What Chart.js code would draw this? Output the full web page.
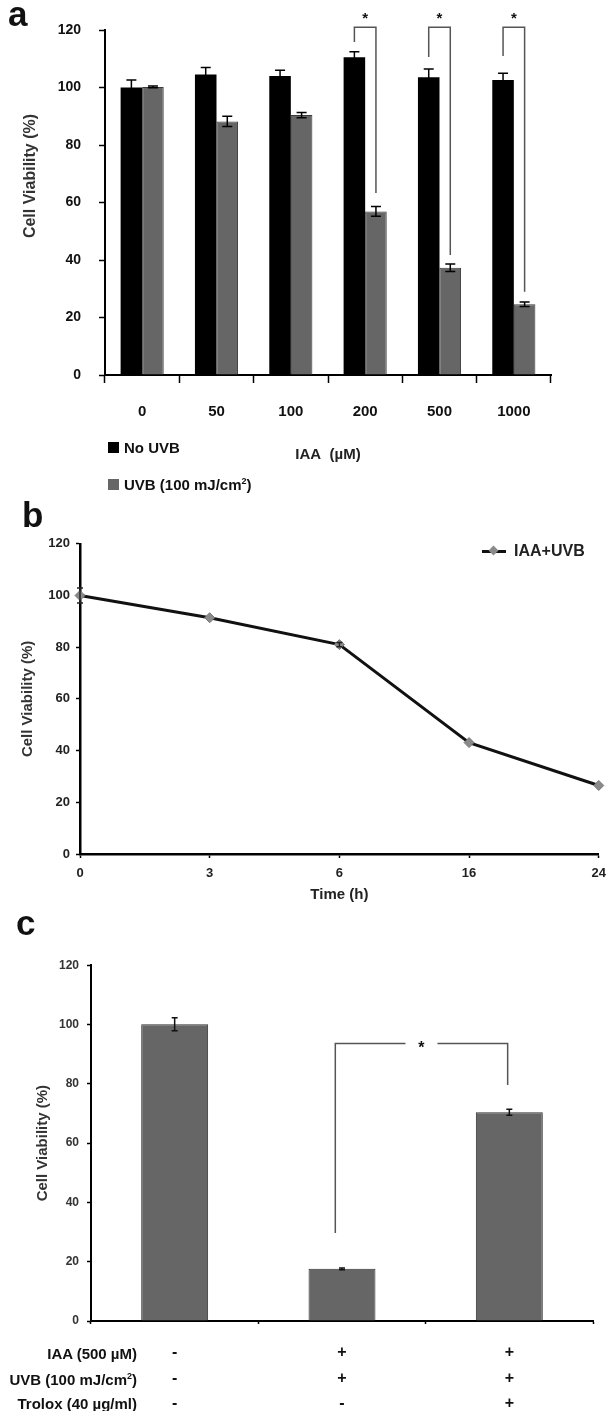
<!DOCTYPE html>
<html>
<head>
<meta charset="utf-8">
<script src="https://cdn.jsdelivr.net/npm/chart.js@4.4.0/dist/chart.umd.min.js"></script>
<style>
    body {
        margin: 0;
        width: 614px;
        height: 1411px;
        position: relative;
        overflow: hidden;
        background: #fff;
        font-family: "Liberation Sans", Arial, sans-serif;
    }

    canvas {
        position: absolute;
        left: 0;
        display: block;
    }

    .txt {
        position: absolute;
        font-weight: bold;
        color: #111;
        white-space: nowrap;
        line-height: 1;
    }

    .letter { font-size: 35px; }

    .legend-sq {
        position: absolute;
        width: 11px;
        height: 11px;
    }

    .ytitle {
        transform: translate(-50%, -50%) rotate(-90deg);
        font-size: 16px;
        color: #333;
    }

    .row-name {
        font-size: 15px;
        transform: translate(-100%, -50%);
    }

    .legend-line {
        position: absolute;
        left: 482px;
        top: 550px;
        width: 24px;
        height: 3px;
        background: #111;
    }

    .legend-diamond {
        position: absolute;
        left: 490px;
        top: 547px;
        width: 7px;
        height: 7px;
        background: #8a8a8a;
        transform: rotate(45deg);
    }

    sup { font-size: 60%; line-height: 0; }
</style>
</head>
<body>

<canvas id="chart-a" width="614" height="470" style="top:0"></canvas>
<canvas id="chart-b" width="614" height="380" style="top:530px"></canvas>
<canvas id="chart-c" width="614" height="461" style="top:950px"></canvas>

<div class="txt letter" style="left:8px; top:-4px">a</div>
<div class="txt letter" style="left:22px; top:497px">b</div>
<div class="txt letter" style="left:16px; top:905px">c</div>

<div class="txt ytitle" style="left:30px; top:176px">Cell Viability (%)</div>

<div class="legend-sq" style="left:108px; top:442px; background:#000"></div>
<div class="txt" style="left:124px; top:440px; font-size:15px">No UVB</div>
<div class="legend-sq" style="left:108px; top:479px; background:#666"></div>
<div class="txt" style="left:124px; top:477px; font-size:15px">UVB (100 mJ/cm<sup>2</sup>)</div>

<div class="legend-line"></div>
<div class="legend-diamond"></div>
<div class="txt" style="left:514px; top:543px; font-size:16px; color:#222">IAA+UVB</div>

<div id="row-names"></div>

<script>
/* ===========================
   DATA
=========================== */

// panel a: viability vs IAA dose
const doseLabels = ["0", "50", "100", "200", "500", "1000"];
const noUvbValues = [100, 104.5, 104, 110.5, 103.6, 102.6];
const noUvbErrors = [2.6, 2.5, 2, 1.9, 2.8, 2.4];
const uvbValues = [100.2, 88.2, 90.4, 56.9, 37.3, 24.6];
const uvbErrors = [0.3, 1.8, 0.9, 1.7, 1.3, 0.8];

// significance brackets in panel a
const sigDoseIndex = [3, 4, 5];
const sigLeftFrom = [115.8, 110.6, 111];
const sigRightTo = [63.3, 41.7, 29];
const sigTop = 121;
const sigStar = 125;

// panel b: viability vs time
const timeLabels = ["0", "3", "6", "16", "24"];
const timeValues = [100, 91.4, 81, 43.1, 26.5];
const timeErrors = [2.9, 0, 0.8, 0, 0];

// panel c: treatments
const treatmentRows = ["IAA (500 µM)", "UVB (100 mJ/cm²)", "Trolox (40 µg/ml)"];
const treatmentLabels = [["-", "-", "-"], ["+", "+", "-"], ["+", "+", "+"]];
const treatmentValues = [100.1, 17.6, 70.4];
const treatmentErrors = [2.2, 0.3, 1];

// bracket in panel c (category positions and values)
const trtSigFrom = 0.96;
const trtSigTo = 1.99;
const trtSigLeftLow = 29.7;
const trtSigRightLow = 79.6;
const trtSigTop = 93.6;

const viabilityTicks = [0, 20, 40, 60, 80, 100, 120];

/* ===========================
   PLUGINS
=========================== */

const errorBars = {
    id: "errorBars",
    afterDatasetsDraw(chart, args, opts) {
        const ctx = chart.ctx;
        const y = chart.scales.y;

        chart.data.datasets.forEach((ds, i) => {
            if (!ds.errors) return;
            const meta = chart.getDatasetMeta(i);

            meta.data.forEach((el, j) => {
                const err = ds.errors[j];
                if (!err) return;
                const top = y.getPixelForValue(ds.data[j] + err);
                const bot = y.getPixelForValue(ds.data[j] - err);

                ctx.save();
                ctx.strokeStyle = opts.color || "#000";
                ctx.lineWidth = opts.width || 1.5;
                ctx.beginPath();
                ctx.moveTo(el.x, top);
                ctx.lineTo(el.x, bot);
                ctx.moveTo(el.x - opts.cap, top);
                ctx.lineTo(el.x + opts.cap, top);
                ctx.moveTo(el.x - opts.cap, bot);
                ctx.lineTo(el.x + opts.cap, bot);
                ctx.stroke();
                ctx.restore();
            });
        });
    }
};

const bracketsA = {
    id: "bracketsA",
    afterDraw(chart) {
        const ctx = chart.ctx;
        const y = chart.scales.y;
        const black = chart.getDatasetMeta(0);
        const gray = chart.getDatasetMeta(1);

        ctx.save();
        ctx.strokeStyle = "#555";
        ctx.lineWidth = 1.5;
        ctx.fillStyle = "#111";
        ctx.font = "bold 15px 'Liberation Sans', Arial";
        ctx.textAlign = "center";
        ctx.textBaseline = "middle";

        sigDoseIndex.forEach((d, k) => {
            const x1 = black.data[d].x;
            const x2 = gray.data[d].x;
            ctx.beginPath();
            ctx.moveTo(x1, y.getPixelForValue(sigLeftFrom[k]));
            ctx.lineTo(x1, y.getPixelForValue(sigTop));
            ctx.lineTo(x2, y.getPixelForValue(sigTop));
            ctx.lineTo(x2, y.getPixelForValue(sigRightTo[k]));
            ctx.stroke();
            ctx.fillText("*", (x1 + x2) / 2, y.getPixelForValue(sigStar) + 3);
        });

        ctx.restore();
    }
};

const bracketC = {
    id: "bracketC",
    afterDraw(chart) {
        const ctx = chart.ctx;
        const x = chart.scales.x;
        const y = chart.scales.y;
        const x1 = x.getPixelForValue(trtSigFrom);
        const x2 = x.getPixelForValue(trtSigTo);
        const yt = y.getPixelForValue(trtSigTop);
        const mid = (x1 + x2) / 2;
        const gap = 16;

        ctx.save();
        ctx.strokeStyle = "#555";
        ctx.lineWidth = 1.5;
        ctx.beginPath();
        ctx.moveTo(x1, y.getPixelForValue(trtSigLeftLow));
        ctx.lineTo(x1, yt);
        ctx.lineTo(mid - gap, yt);
        ctx.moveTo(mid + gap, yt);
        ctx.lineTo(x2, yt);
        ctx.lineTo(x2, y.getPixelForValue(trtSigRightLow));
        ctx.stroke();

        ctx.fillStyle = "#111";
        ctx.font = "bold 16px 'Liberation Sans', Arial";
        ctx.textAlign = "center";
        ctx.textBaseline = "middle";
        ctx.fillText("*", mid, yt + 5);
        ctx.restore();
    }
};

/* ===========================
   SHARED SCALE HELPERS
=========================== */

function yScale(width, fontSize, color, tickLength, padding, border) {
    return {
        min: 0,
        max: 120,
        afterBuildTicks: (s) => { s.ticks = viabilityTicks.map(v => ({ value: v })); },
        grid: { drawOnChartArea: false, color: "#000", tickLength: tickLength, tickWidth: 1.5 },
        border: { color: "#000", width: border },
        ticks: {
            color: color,
            padding: padding,
            font: { family: "'Liberation Sans', Arial", weight: "bold", size: fontSize }
        },
        afterFit: (s) => { s.width = width; }
    };
}

Chart.defaults.font.family = "'Liberation Sans', Arial, sans-serif";
Chart.defaults.animation = false;

/* ===========================
   PANEL A
=========================== */

new Chart(document.getElementById("chart-a"), {
    type: "bar",
    data: {
        labels: doseLabels,
        datasets: [
            {
                label: "No UVB",
                data: noUvbValues,
                errors: noUvbErrors,
                backgroundColor: "#000",
                borderWidth: 0
            },
            {
                label: "UVB (100 mJ/cm²)",
                data: uvbValues,
                errors: uvbErrors,
                backgroundColor: "#666",
                borderColor: "#3a3a3a",
                borderWidth: 1
            }
        ]
    },
    options: {
        responsive: false,
        layout: { padding: { top: 30, right: 63, left: 0, bottom: 0 } },
        datasets: { bar: { barPercentage: 1, categoryPercentage: 0.58 } },
        plugins: {
            legend: { display: false },
            tooltip: { enabled: false },
            errorBars: { cap: 5, width: 1.5, color: "#000" }
        },
        scales: {
            x: {
                grid: { drawOnChartArea: false, color: "#000", tickLength: 8, tickWidth: 1.5 },
                border: { color: "#000", width: 2 },
                ticks: {
                    color: "#111",
                    padding: 20,
                    font: { weight: "bold", size: 15 }
                },
                title: {
                    display: true,
                    text: "IAA  (µM)",
                    color: "#222",
                    font: { weight: "bold", size: 15 },
                    padding: { top: 0, bottom: 6 }
                },
                afterFit: (s) => { s.height = 95; }
            },
            y: yScale(105, 14, "#111", 6, 18, 2)
        }
    },
    plugins: [errorBars, bracketsA]
});

/* ===========================
   PANEL B
=========================== */

const yB = yScale(80, 13, "#222", 4, 6, 2.5);
yB.title = {
    display: true,
    text: "Cell Viability (%)",
    color: "#333",
    font: { weight: "bold", size: 15 },
    padding: { top: 19, bottom: 0 }
};

new Chart(document.getElementById("chart-b"), {
    type: "line",
    data: {
        labels: timeLabels,
        datasets: [
            {
                label: "IAA+UVB",
                data: timeValues,
                errors: timeErrors,
                borderColor: "#111",
                backgroundColor: "#111",
                borderWidth: 3,
                tension: 0,
                pointStyle: "rectRot",
                pointRadius: 5,
                pointBackgroundColor: "#8a8a8a",
                pointBorderColor: "#777",
                pointBorderWidth: 1,
                clip: false
            }
        ]
    },
    options: {
        responsive: false,
        layout: { padding: { top: 13, right: 13, left: 0, bottom: 0 } },
        plugins: {
            legend: { display: false },
            tooltip: { enabled: false },
            errorBars: { cap: 3, width: 1.5, color: "#222" }
        },
        scales: {
            x: {
                grid: { drawOnChartArea: false, color: "#000", tickLength: 4, tickWidth: 1.5 },
                border: { color: "#000", width: 2.5 },
                ticks: {
                    color: "#222",
                    padding: 8,
                    font: { weight: "bold", size: 13 }
                },
                title: {
                    display: true,
                    text: "Time (h)",
                    color: "#222",
                    font: { weight: "bold", size: 15 },
                    padding: { top: 0, bottom: 6 }
                },
                afterFit: (s) => { s.height = 56; }
            },
            y: yB
        }
    },
    plugins: [errorBars]
});

/* ===========================
   PANEL C
=========================== */

const yC = yScale(91, 12, "#333", 4, 8, 2);
yC.title = {
    display: true,
    text: "Cell Viability (%)",
    color: "#333",
    font: { weight: "bold", size: 15 },
    padding: { top: 34, bottom: 0 }
};

new Chart(document.getElementById("chart-c"), {
    type: "bar",
    data: {
        labels: treatmentLabels,
        datasets: [
            {
                label: "Cell viability",
                data: treatmentValues,
                errors: treatmentErrors,
                backgroundColor: "#666",
                borderColor: "#333",
                borderWidth: 1,
                barPercentage: 1,
                categoryPercentage: 0.4
            }
        ]
    },
    options: {
        responsive: false,
        layout: { padding: { top: 15, right: 21, left: 0, bottom: 0 } },
        plugins: {
            legend: { display: false },
            tooltip: { enabled: false },
            errorBars: { cap: 3, width: 1.5, color: "#111" }
        },
        scales: {
            x: {
                grid: { drawOnChartArea: false, color: "#000", tickLength: 3, tickWidth: 1.5 },
                border: { color: "#000", width: 2 },
                ticks: {
                    color: "#111",
                    padding: 16,
                    font: { weight: "bold", size: 16, lineHeight: 1.6 }
                },
                afterFit: (s) => { s.height = 90; }
            },
            y: yC
        }
    },
    plugins: [errorBars, bracketC]
});

// row headers for the treatment table under panel c
const rowY = [1353, 1379, 1403];
document.getElementById("row-names").innerHTML = treatmentRows.map((name, i) =>
    `<div class="txt row-name" style="left:137px; top:${rowY[i]}px">${name.replace("²", "<sup>2</sup>")}</div>`
).join("");
</script>
</body>
</html>
